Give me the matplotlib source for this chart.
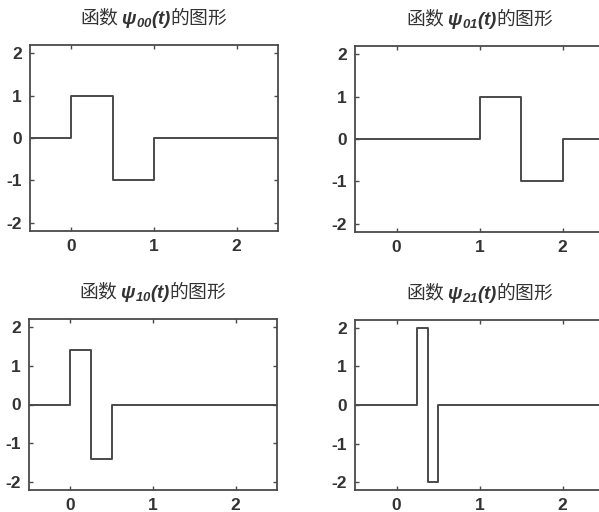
import numpy as np
import matplotlib
matplotlib.use('Agg')
import matplotlib.pyplot as plt

plt.rcParams['font.family'] = ['Noto Sans CJK SC', 'DejaVu Sans']
plt.rcParams['axes.unicode_minus'] = False
plt.rcParams['mathtext.fontset'] = 'custom'
plt.rcParams['mathtext.it'] = 'Liberation Sans:italic:bold'
plt.rcParams['mathtext.rm'] = 'Liberation Sans:italic:bold'

# haar wavelets psi_jk(t), drawn as steps (value holds from edge i to edge i+1)
t00 = [-0.5, 0, 0.5, 1, 2.5]
v00 = [0, 1, -1, 0, 0]
t01 = [-0.5, 1, 1.5, 2, 2.5]
v01 = [0, 1, -1, 0, 0]
t10 = [-0.5, 0, 0.25, 0.5, 2.5]
v10 = [0, 1.414, -1.414, 0, 0]
t21 = [-0.5, 0.25, 0.375, 0.5, 2.5]
v21 = [0, 2, -2, 0, 0]

titles = [r'函数 $\psi_{00}(t)$的图形', r'函数 $\psi_{01}(t)$的图形',
          r'函数 $\psi_{10}(t)$的图形', r'函数 $\psi_{21}(t)$的图形']
xticks = [0, 1, 2]
yticks = [-2, -1, 0, 1, 2]

W, H = 599, 512
fig = plt.figure(figsize=(W/100, H/100), dpi=100)
fig.patch.set_facecolor('white')

# axes boxes in pixels (left, top, right, bottom)
boxes = [(30, 45, 278, 231), (355, 46, 604, 232),
         (29, 319, 277, 490), (355, 320, 604, 490)]
data = [(t00, v00), (t01, v01), (t10, v10), (t21, v21)]

col = '#4a4a4a'
for (l, t, r, b), (tt, vv), ttl in zip(boxes, data, titles):
    ax = fig.add_axes([l/W, 1-b/H, (r-l)/W, (b-t)/H])
    ax.step(tt, vv, where='post', color=col, lw=1.4)
    ax.set_xlim(-0.5, 2.5)
    ax.set_ylim(-2.2, 2.2)
    ax.set_xticks(xticks)
    ax.set_yticks(yticks)
    ax.tick_params(direction='in', top=True, right=True, length=3,
                   width=1.0, color=col, labelcolor='#333333', pad=6)
    for lab in ax.get_xticklabels() + ax.get_yticklabels():
        lab.set_family('Liberation Sans')
        lab.set_fontweight('bold')
        lab.set_fontsize(12.5)
    for s in ax.spines.values():
        s.set_color(col)
        s.set_linewidth(1.3)
    ax.set_title(ttl, fontsize=13.5, color='#333333', pad=15)

plt.savefig('out.png', dpi=100)
